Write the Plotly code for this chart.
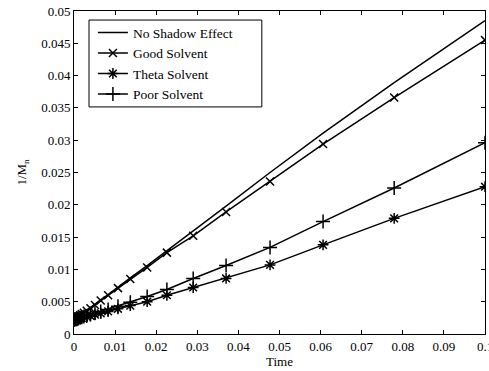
import plotly.graph_objects as go

time = [0, 0.0001, 0.0003, 0.0005, 0.0007, 0.0009, 0.0011, 0.0015, 0.0019, 0.0024,
        0.0031, 0.004, 0.0051, 0.0065, 0.0083, 0.0107, 0.0137, 0.0178, 0.0226,
        0.029, 0.037, 0.0477, 0.0606, 0.0779, 0.1]

no_shadow = [0.0022, 0.0022, 0.0023, 0.0024, 0.0025, 0.0026, 0.0027, 0.0029, 0.0031, 0.0033,
             0.0037, 0.0041, 0.0046, 0.0053, 0.0061, 0.0073, 0.0087, 0.0106, 0.0129,
             0.0159, 0.0198, 0.0250, 0.0311, 0.0389, 0.0485]

good_solvent = [0.0022, 0.0022, 0.0023, 0.0024, 0.0025, 0.0026, 0.0027, 0.0029, 0.0031, 0.0033,
                0.0036, 0.0040, 0.0045, 0.0052, 0.0060, 0.0071, 0.0085, 0.0103, 0.0126,
                0.0152, 0.0189, 0.0236, 0.0294, 0.0366, 0.0455]

theta_solvent = [0.0022, 0.0022, 0.0022, 0.0023, 0.0023, 0.0023, 0.0024, 0.0024, 0.0025, 0.0026,
                 0.0027, 0.0028, 0.0030, 0.0032, 0.0035, 0.0039, 0.0044, 0.0050, 0.0060,
                 0.0072, 0.0086, 0.0107, 0.0138, 0.0179, 0.0228]

poor_solvent = [0.0022, 0.0022, 0.0023, 0.0023, 0.0023, 0.0024, 0.0024, 0.0025, 0.0026, 0.0027,
                0.0028, 0.0030, 0.0032, 0.0035, 0.0038, 0.0043, 0.0049, 0.0058, 0.0069,
                0.0086, 0.0106, 0.0134, 0.0174, 0.0226, 0.0296]

x_ticks = [0, 0.01, 0.02, 0.03, 0.04, 0.05, 0.06, 0.07, 0.08, 0.09, 0.1]
x_tick_text = ["0", "0.01", "0.02", "0.03", "0.04", "0.05", "0.06", "0.07", "0.08", "0.09", "0.1"]
y_ticks = [0, 0.005, 0.01, 0.015, 0.02, 0.025, 0.03, 0.035, 0.04, 0.045, 0.05]
y_tick_text = ["0", "0.005", "0.01", "0.015", "0.02", "0.025", "0.03", "0.035", "0.04", "0.045", "0.05"]

series_names = ["No Shadow Effect", "Good Solvent", "Theta Solvent", "Poor Solvent"]

FONT = "Liberation Serif, Times New Roman, serif"
fig = go.Figure()
fig.add_trace(go.Scatter(x=time, y=no_shadow, mode="lines", name=series_names[0],
                         line=dict(color="black", width=1.5)))
fig.add_trace(go.Scatter(x=time, y=good_solvent, mode="lines+markers", name=series_names[1],
                         line=dict(color="black", width=1.5),
                         marker=dict(symbol="x-thin", size=8, color="black",
                                     line=dict(color="black", width=1.5))))
fig.add_trace(go.Scatter(x=time, y=theta_solvent, mode="lines+markers", name=series_names[2],
                         line=dict(color="black", width=1.5),
                         marker=dict(symbol="asterisk", size=9, color="black",
                                     line=dict(color="black", width=1.5))))
fig.add_trace(go.Scatter(x=time, y=poor_solvent, mode="lines+markers", name=series_names[3],
                         line=dict(color="black", width=1.5),
                         marker=dict(symbol="cross-thin", size=10, color="black",
                                     line=dict(color="black", width=1.5))))

axis_common = dict(showgrid=False, zeroline=False, showline=True, linecolor="black",
                   linewidth=1, mirror="allticks", ticks="inside", ticklen=4,
                   tickcolor="black", ticklabeloverflow="allow", automargin=False,
                   tickfont=dict(family=FONT, size=13, color="black"))

# legend frame, sized like the reference's legend box
fig.add_shape(type="rect", xref="x domain", yref="y domain",
              x0=0.0365, x1=0.457, y0=0.703, y1=0.972,
              line=dict(color="black", width=1), fillcolor="white", layer="above")

fig.update_layout(
    width=489, height=371,
    margin=dict(l=74, r=4, t=11, b=37, autoexpand=False),
    paper_bgcolor="white", plot_bgcolor="white",
    font=dict(family=FONT, size=13, color="black"),
    showlegend=True,
    legend=dict(x=0.046, y=0.981, xanchor="left", yanchor="top",
                borderwidth=0, bgcolor="rgba(0,0,0,0)",
                font=dict(family=FONT, size=13.5, color="black"),
                tracegroupgap=0),
    xaxis=dict(range=[0, 0.1], tickvals=x_ticks, ticktext=x_tick_text,
               title=dict(text="Time", font=dict(family=FONT, size=13), standoff=2),
               **axis_common),
    yaxis=dict(range=[0, 0.05], tickvals=y_ticks, ticktext=y_tick_text,
               title=dict(text="1/M<sub>n</sub>", font=dict(family=FONT, size=13), standoff=11),
               **axis_common),
)

fig.write_html("out.html", config={"displayModeBar": False},
               post_script="document.body.style.margin='0';document.body.style.padding='0';")
